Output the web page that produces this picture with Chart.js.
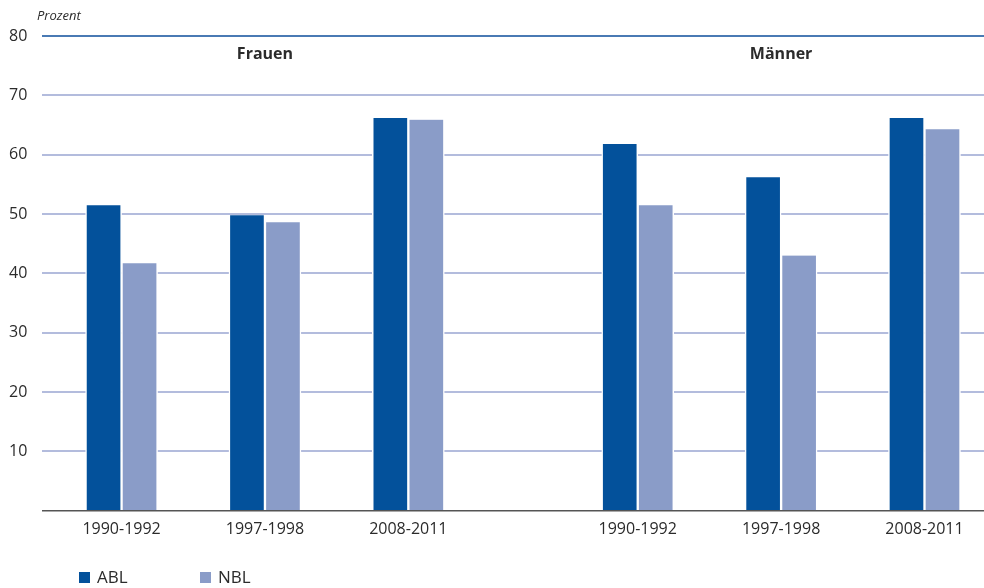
<!DOCTYPE html>
<html>
<head>
<meta charset="utf-8">
<script src="https://cdn.jsdelivr.net/npm/chart.js@4/dist/chart.umd.min.js"></script>
<style>
  html, body { margin: 0; padding: 0; background: #fff; }
  #wrap { width: 984px; height: 588px; position: relative; }
</style>
</head>
<body>
<div id="wrap"><canvas id="myBarChart"></canvas></div>
<script>
// data
const groups = ['Frauen', 'Männer'];
const periods = ['1990-1992', '1997-1998', '2008-2011'];
const seriesNames = ['ABL', 'NBL'];
const ablValues = [51.5, 49.8, 66.2, 61.8, 56.2, 66.2];
const nblValues = [41.7, 48.6, 65.9, 51.5, 43.0, 64.3];
const yTicks = [10, 20, 30, 40, 50, 60, 70, 80];

// extra space between the two groups (in slot units)
const groupGap = 0.6;
const slotPos = [];
groups.forEach(function (g, gi) {
  periods.forEach(function (p, pi) {
    slotPos.push(gi * (periods.length + groupGap) + pi);
  });
});

function toPoints(vals) {
  return vals.map(function (v, i) { return { x: slotPos[i], y: v }; });
}

const txt = '#2b2b2b';
const fontFam = '"Open Sans", "Noto Sans", sans-serif';

// Prozent, group titles and legend
const extras = {
  id: 'extras',
  afterDraw(chart) {
    const ctx = chart.ctx;
    const xs = chart.scales.x;
    ctx.save();
    ctx.fillStyle = txt;
    ctx.textBaseline = 'middle';
    ctx.font = 'italic 13px ' + fontFam;
    ctx.textAlign = 'left';
    ctx.fillText('Prozent', 37, 16);

    ctx.font = 'bold 16px ' + fontFam;
    ctx.textAlign = 'center';
    groups.forEach(function (g, gi) {
      const mid = slotPos[gi * periods.length + 1];
      ctx.fillText(g, xs.getPixelForValue(mid), 54);
    });

    ctx.font = '17px ' + fontFam;
    ctx.textAlign = 'left';
    let lx = 79;
    chart.data.datasets.forEach(function (ds) {
      ctx.fillStyle = ds.backgroundColor;
      ctx.fillRect(lx, 572, 11, 11);
      ctx.fillStyle = txt;
      ctx.fillText(ds.label, lx + 18, 578);
      lx += 121;
    });
    ctx.restore();
  }
};

var ctx = document.getElementById('myBarChart');

var myBarChart = new Chart(ctx, {
  type: 'bar',
  data: {
    datasets: [{
      label: seriesNames[0],
      data: toPoints(ablValues),
      backgroundColor: '#03519b',
      borderColor: '#ffffff',
      borderWidth: { left: 1.5, right: 1.5, top: 0, bottom: 0 },
      borderSkipped: false,
      barThickness: 36
    }, {
      label: seriesNames[1],
      data: toPoints(nblValues),
      backgroundColor: '#8a9cc8',
      borderColor: '#ffffff',
      borderWidth: { left: 1.5, right: 1.5, top: 0, bottom: 0 },
      borderSkipped: false,
      barThickness: 36
    }]
  },
  options: {
    responsive: true,
    maintainAspectRatio: false,
    animation: false,
    layout: { padding: { top: 36, left: 9, right: 0, bottom: 40 } },
    plugins: {
      legend: { display: false },
      title: { display: false },
      tooltip: { enabled: false }
    },
    scales: {
      x: {
        type: 'linear',
        offset: false,
        min: slotPos[0] - 0.555,
        max: slotPos[slotPos.length - 1] + 0.415,
        afterBuildTicks: function (s) {
          s.ticks = slotPos.map(function (v) { return { value: v }; });
        },
        grid: { display: false, drawTicks: false },
        border: { display: false },
        ticks: {
          autoSkip: false,
          maxRotation: 0,
          padding: 9,
          color: txt,
          font: { family: fontFam, size: 16 },
          callback: function (v, i) { return periods[i % periods.length]; }
        }
      },
      y: {
        min: 0,
        max: 80,
        afterBuildTicks: function (s) {
          s.ticks = [0].concat(yTicks).map(function (v) { return { value: v }; });
        },
        afterFit: function (s) { s.width = 33; },
        border: { display: false },
        grid: {
          drawTicks: false,
          color: function (c) {
            if (c.tick.value === 0) return '#555555';
            if (c.tick.value === 80) return '#4a7ab4';
            return '#b3bcdd';
          },
          lineWidth: function (c) { return c.tick.value === 0 ? 1.5 : 2; }
        },
        ticks: {
          crossAlign: 'far',
          padding: 10,
          color: txt,
          font: { family: fontFam, size: 16 },
          callback: function (v) { return v === 0 ? '' : v; }
        }
      }
    }
  },
  plugins: [extras]
});
</script>
</body>
</html>
